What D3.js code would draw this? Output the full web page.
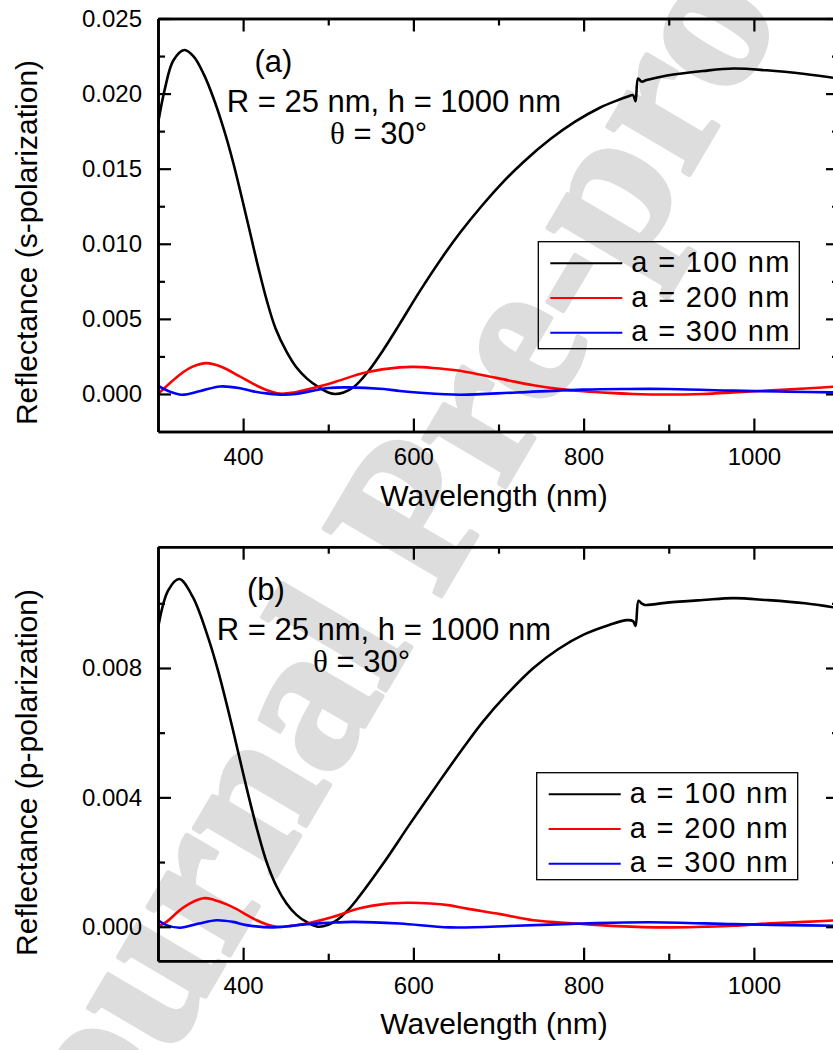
<!DOCTYPE html>
<html>
<head>
<meta charset="utf-8">
<script src="https://cdn.jsdelivr.net/npm/d3@7"></script>
<style>
    body { margin: 0; background: #fff; }
    text { font-family: Arial, "Liberation Sans", sans-serif; }
</style>
</head>
<body>
<script>
// wavelengths (nm) and reflectance
var sBlackX = [300, 308, 318, 331, 342, 354, 365, 377, 388, 398, 408, 418, 428, 438, 451, 463, 475, 490, 500, 508, 518, 530, 545, 565, 584, 608, 637, 655, 680, 702, 730, 761, 790, 819, 840, 852, 858, 861, 864, 868, 874, 898, 940, 976, 1015, 1060, 1100];
var sBlackY = [0.0180, 0.0203, 0.0222, 0.0229, 0.02246, 0.02126, 0.01972, 0.01768, 0.01548, 0.01318, 0.01078, 0.00838, 0.00618, 0.00438, 0.00282, 0.00174, 0.00102, 0.0004, 0.0001, 0.0000, 0.0001, 0.00046, 0.00136, 0.00296, 0.00467, 0.00688, 0.00935, 0.01075, 0.0125, 0.01391, 0.01548, 0.01697, 0.01813, 0.01906, 0.01956, 0.0198, 0.0199, 0.0195, 0.0210, 0.0208, 0.0209, 0.0212, 0.0215, 0.02167, 0.02155, 0.0213, 0.0210];
var sRedX = [300, 326, 340, 357, 375, 395, 412, 428, 443, 460, 479, 506, 545, 584, 600, 623, 650, 682, 712, 741, 770, 800, 830, 858, 897, 940, 976, 1015, 1060, 1100];
var sRedY = [0.0000, 0.0013, 0.0018, 0.00205, 0.0018, 0.0012, 0.00067, 0.00025, 0.00002, 0.0001, 0.00035, 0.00077, 0.00144, 0.00177, 0.0018, 0.00173, 0.00158, 0.00125, 0.0009, 0.00058, 0.00034, 0.00018, 0.00007, 0.0000, -0.00004, 0.0000, 0.0001, 0.00022, 0.00036, 0.0005];
var sBlueX = [300, 312, 328, 350, 373, 395, 412, 430, 447, 462, 478, 500, 522, 565, 584, 608, 655, 721, 800, 850, 898, 976, 1040, 1100];
var sBlueY = [0.00055, 0.0002, -0.00005, 0.0002, 0.0005, 0.0004, 0.00017, 0.00002, -0.00005, 0.0000, 0.00017, 0.0004, 0.00044, 0.00033, 0.0002, 0.00008, -0.00005, 0.0001, 0.00029, 0.00033, 0.00033, 0.00022, 0.00015, 0.0001];

var pBlackX = [300, 312, 325, 341, 359, 371, 388, 402, 416, 428, 439, 451, 463, 475, 488, 500, 512, 522, 533, 565, 596, 631, 660, 682, 710, 741, 770, 800, 830, 851, 858, 861, 864.5, 868, 872, 898, 940, 976, 1015, 1060, 1100];
var pBlackY = [0.00923, 0.0104, 0.01075, 0.01019, 0.00893, 0.00787, 0.00609, 0.00452, 0.00305, 0.00197, 0.00126, 0.00072, 0.00036, 0.00014, 0.0000, 0.00006, 0.00024, 0.00048, 0.00082, 0.00197, 0.00318, 0.00451, 0.00558, 0.00635, 0.00719, 0.0080, 0.00858, 0.00903, 0.00933, 0.00948, 0.00945, 0.0093, 0.01008, 0.0100, 0.00995, 0.01002, 0.0101, 0.01016, 0.0101, 0.0100, 0.00985];
var pRedX = [300, 310, 330, 353, 366, 380, 392, 404, 416, 428, 440, 455, 475, 506, 537, 565, 592, 620, 643, 663, 702, 741, 792, 840, 898, 940, 976, 1015, 1060, 1100];
var pRedY = [0.0, 0.00015, 0.0006, 0.00088, 0.00083, 0.0007, 0.00055, 0.00037, 0.0002, 0.00007, 0.0, 0.00002, 0.0001, 0.00031, 0.00057, 0.0007, 0.00074, 0.00072, 0.00066, 0.00056, 0.00039, 0.0002, 0.0001, 0.00002, -0.00002, 0.0, 0.00003, 0.0001, 0.00015, 0.0002];
var pBlueX = [300, 310, 326, 348, 369, 388, 404, 435, 475, 500, 529, 584, 643, 721, 800, 878, 976, 1040, 1100];
var pBlueY = [0.0002, 0.00005, -0.00003, 0.0001, 0.0002, 0.00015, 0.00005, -0.00002, 0.00008, 0.00012, 0.00015, 0.0001, -0.00002, 0.00003, 0.0001, 0.00014, 0.00008, 0.00005, 0.00003];

var seriesNames = ['a = 100 nm', 'a = 200 nm', 'a = 300 nm'];
var seriesColors = ['#000000', '#ff0000', '#0000ff'];

var xDomain = [300, 1100];
var xMajor = [400, 600, 800, 1000];
var xMinor = [500, 700, 900];

var aDomain = [-0.0025, 0.025];
var aMajor = [0, 0.005, 0.010, 0.015, 0.020, 0.025];
var aMinor = [0.0025, 0.0075, 0.0125, 0.0175, 0.0225];
var bDomain = [-0.00105, 0.01175];
var bMajor = [0, 0.004, 0.008];
var bMinor = [0.002, 0.006, 0.010];

var WIDTH = 833;
var HEIGHT = 1050;
var LEFT = 158;
var RIGHT = 839;
var MAJOR = 13;
var MINOR = 7;

var svg = d3.select('body').append('svg')
    .attr('width', WIDTH)
    .attr('height', HEIGHT);

// watermark sits behind everything
svg.append('text')
    .attr('transform', 'translate(405,515) rotate(-59.5)')
    .attr('text-anchor', 'middle')
    .attr('dy', '0.35em')
    .style('font-family', '"Liberation Serif", "Times New Roman", serif')
    .style('font-weight', 'bold')
    .style('font-size', '206px')
    .attr('fill', '#dddddd')
    .attr('stroke', '#dddddd')
    .attr('stroke-width', 5)
    .attr('stroke-linejoin', 'round')
    .text('Journal Pre-proof');

var x = d3.scaleLinear().domain(xDomain).range([LEFT, RIGHT]);

function zip(xs, ys){
    return xs.map(function(d, i){ return [d, ys[i]]; });
}

function drawPanel(cfg){
    var y = d3.scaleLinear().domain(cfg.domain).range([cfg.bottom, cfg.top]);
    var g = svg.append('g');

    g.append('clipPath').attr('id', 'clip' + cfg.id)
        .append('rect')
        .attr('x', LEFT).attr('y', cfg.top)
        .attr('width', RIGHT - LEFT).attr('height', cfg.bottom - cfg.top);

    var line = d3.line()
        .x(function(d){ return x(d[0]); })
        .y(function(d){ return y(d[1]); })
        .curve(d3.curveCatmullRom.alpha(0.5));

    g.append('g').attr('clip-path', 'url(#clip' + cfg.id + ')')
        .selectAll('path').data(cfg.series).enter()
        .append('path')
        .attr('d', function(d){ return line(d); })
        .attr('fill', 'none')
        .attr('stroke', function(d, i){ return seriesColors[i]; })
        .attr('stroke-width', 2.6)
        .attr('stroke-linejoin', 'round');

    // axes, ticks pointing inward
    function axis(gen, tx, ty, vals, size, labels){
        var a = gen(tx === null ? x : y)
            .tickValues(vals)
            .tickSizeInner(-size)
            .tickSizeOuter(0)
            .tickPadding(16)
            .tickFormat(labels ? labels : '');
        var s = g.append('g')
            .attr('transform', 'translate(' + (tx || 0) + ',' + (ty || 0) + ')')
            .call(a);
        s.select('.domain').attr('stroke-width', 2.6);
        s.selectAll('.tick line').attr('stroke-width', 2.2);
        s.selectAll('text').style('font-size', '24px').attr('fill', '#000');
        return s;
    }
    var fmt = d3.format('.3f');
    axis(d3.axisBottom, null, cfg.bottom, xMajor, MAJOR, function(d){ return d; });
    axis(d3.axisBottom, null, cfg.bottom, xMinor, MINOR);
    axis(d3.axisTop, null, cfg.top, xMajor, MAJOR);
    axis(d3.axisTop, null, cfg.top, xMinor, MINOR);
    axis(d3.axisLeft, LEFT, 0, cfg.major, MAJOR, fmt);
    axis(d3.axisLeft, LEFT, 0, cfg.minor, MINOR);
    axis(d3.axisRight, RIGHT, 0, cfg.major, MAJOR);
    axis(d3.axisRight, RIGHT, 0, cfg.minor, MINOR);

    g.append('text')
        .attr('x', 494).attr('y', cfg.top + 487.5)
        .attr('text-anchor', 'middle')
        .style('font-size', '30px')
        .text('Wavelength (nm)');

    g.append('text')
        .attr('transform', 'translate(37,' + cfg.labelY + ') rotate(-90)')
        .attr('text-anchor', 'middle')
        .style('font-size', '30px')
        .text(cfg.yLabel);

    g.append('text')
        .attr('x', cfg.tagX).attr('y', cfg.top + 53)
        .attr('text-anchor', 'middle')
        .style('font-size', '31px')
        .text(cfg.tag);

    g.append('text')
        .attr('x', cfg.noteX).attr('y', cfg.top + 93.2)
        .style('font-size', '31px')
        .text('R = 25 nm, h = 1000 nm');

    var th = g.append('text')
        .attr('x', cfg.thetaX).attr('y', cfg.top + 125)
        .style('font-size', '31px');
    th.append('tspan')
        .style('font-family', '"Liberation Serif", "Times New Roman", serif')
        .text('\u03b8');
    th.append('tspan').text(' = 30\u00b0');

    // legend
    var lg = g.append('g').attr('transform', 'translate(' + cfg.legX + ',' + cfg.legY + ')');
    lg.append('rect')
        .attr('width', 261).attr('height', 107)
        .attr('fill', 'none')
        .attr('stroke', '#000')
        .attr('stroke-width', 1.3);
    var rows = lg.selectAll('.row').data(seriesNames).enter()
        .append('g')
        .attr('class', 'row')
        .attr('transform', function(d, i){ return 'translate(0,' + (21.5 + i * 34.8) + ')'; });
    rows.append('line')
        .attr('x1', 12).attr('x2', 84)
        .attr('stroke', function(d, i){ return seriesColors[i]; })
        .attr('stroke-width', 2);
    rows.append('text')
        .attr('x', 93).attr('y', 8.5)
        .style('font-size', '29px')
        .attr('textLength', 158)
        .attr('lengthAdjust', 'spacing')
        .text(function(d){ return d; });
}

drawPanel({
    id: 'a', top: 18.5, bottom: 431.5,
    domain: aDomain, major: aMajor, minor: aMinor,
    series: [zip(sBlackX, sBlackY), zip(sRedX, sRedY), zip(sBlueX, sBlueY)],
    yLabel: 'Reflectance (s-polarization)', labelY: 242.5,
    tag: '(a)', tagX: 273.5, noteX: 226.7, thetaX: 330,
    legX: 538.3, legY: 241.7
});

drawPanel({
    id: 'b', top: 546.7, bottom: 960.7,
    domain: bDomain, major: bMajor, minor: bMinor,
    series: [zip(pBlackX, pBlackY), zip(pRedX, pRedY), zip(pBlueX, pBlueY)],
    yLabel: 'Reflectance (p-polarization)', labelY: 772.5,
    tag: '(b)', tagX: 266, noteX: 216.7, thetaX: 313,
    legX: 536.7, legY: 772.7
});
</script>
</body>
</html>
